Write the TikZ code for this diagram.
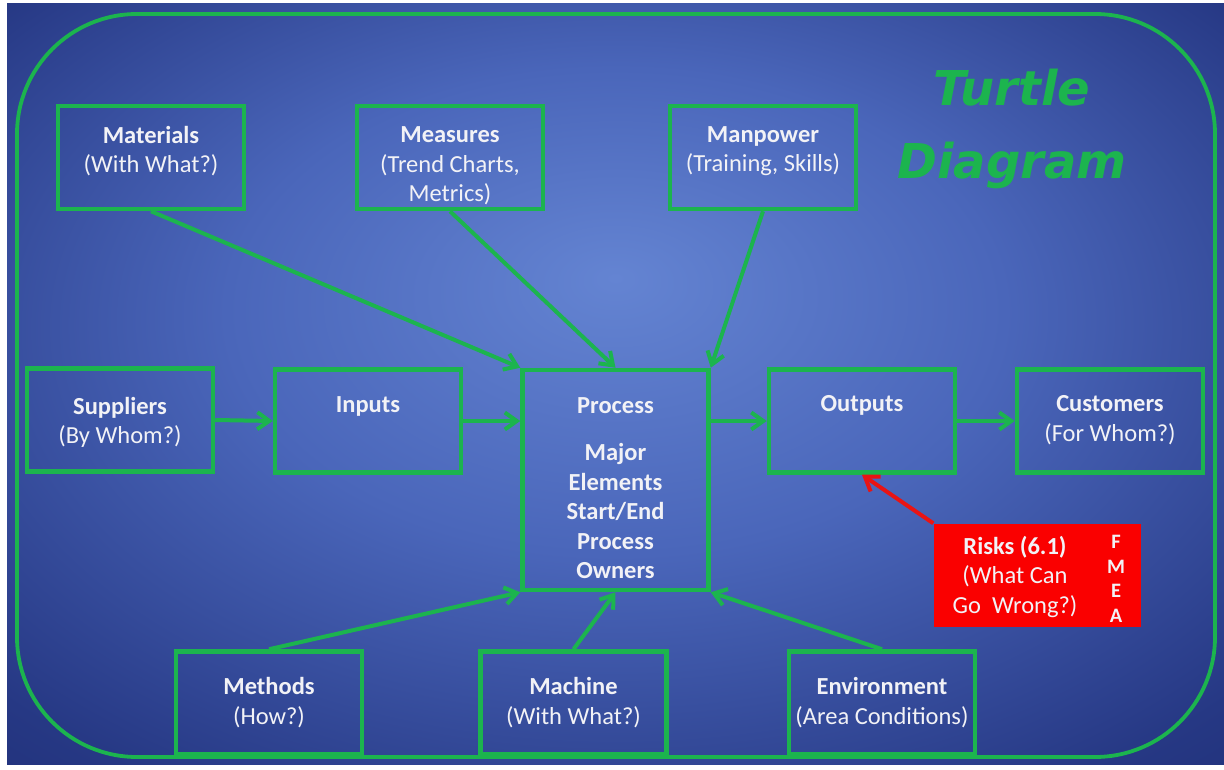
\documentclass[tikz,border=0pt]{standalone}
\usepackage{fontspec}
\setmainfont{Carlito}
\newfontfamily\titlefont{DejaVu Sans}
\usetikzlibrary{arrows.meta,calc}
\definecolor{grn}{RGB}{28,180,78}
\definecolor{bgA}{RGB}{100,132,210}
\definecolor{bgB}{RGB}{74,102,186}
\definecolor{bgC}{RGB}{38,56,132}
\definecolor{bgD}{RGB}{22,34,102}
\definecolor{riskred}{RGB}{250,0,0}
\definecolor{arrred}{RGB}{232,20,20}
\definecolor{txtc}{RGB}{242,242,246}
\pgfdeclareradialshading{bgshade}{\pgfpoint{0bp}{7bp}}{color(0bp)=(bgA); color(16bp)=(bgB); color(34bp)=(bgC); color(50bp)=(bgD)}
\tikzset{
  box/.style={draw=grn, line width=4.5pt, minimum width=186pt, minimum height=103pt, inner sep=0pt},
  txt/.style={text=txtc, align=center, font=\fontsize{24.5}{29.5}\selectfont, inner sep=0pt},
  arr/.style={draw=grn, line width=4pt, -{Straight Barb[length=12pt,width=17pt]}},
  redarr/.style={draw=arrred, line width=4pt, -{Straight Barb[length=13pt,width=18pt]}},
  ttl/.style={text=grn, font=\titlefont\bfseries\itshape\fontsize{48}{56}\selectfont, inner sep=0pt}
}
\begin{document}
\begin{tikzpicture}[x=1pt,y=-1pt]
\fill[white] (0,0) rectangle (1224,770);
\useasboundingbox (0,0) rectangle (1224,770);
\shade[shading=bgshade] (7,4) rectangle (1224,764);
% outer frame
\draw[grn, line width=3.8pt, rounded corners=120pt] (17,14) rectangle (1215,757);

% title
\node[ttl] (t1) at (1012,88) {Turtle};
\node[ttl] (t2) at (1012,165) {Diagram};

% boxes
\node[box] (mat) at (151,157.5) {};
\node[box] (meas) at (450,157.5) {};
\node[box] (man) at (763,157.5) {};
\node[box] (sup) at (120,420) {};
\node[box] (inp) at (368,421) {};
\node[box, minimum height=220pt] (proc) at (615.5,480) {};
\node[box] (out) at (862,421) {};
\node[box] (cust) at (1110,421) {};
\node[box] (meth) at (269,703) {};
\node[box] (mach) at (573.5,703) {};
\node[box] (env) at (882,703) {};
\node[fill=riskred, minimum width=207pt, minimum height=103pt, inner sep=0pt] (risk) at (1037,575) {};

% texts
\node[txt] (matT) at (151,151) {\textbf{Materials}\\(With What?)};
\node[txt] (measT) at (450,166) {\textbf{Measures}\\(Trend Charts,\\Metrics)};
\node[txt] (manT) at (763,151) {\textbf{Manpower}\\(Training, Skills)};
\node[txt] (supT) at (120,422.5) {\textbf{Suppliers}\\(By Whom?)};
\node[txt] (inpT) at (368,406) {\textbf{Inputs}};
\node[txt] (procT) at (615.5,488) {\textbf{Process}\\[18pt]\textbf{Major}\\\textbf{Elements}\\\textbf{Start/End}\\\textbf{Process}\\\textbf{Owners}};
\node[txt] (outT) at (862,405) {\textbf{Outputs}};
\node[txt] (custT) at (1110,420) {\textbf{Customers}\\(For Whom?)};
\node[txt] (methT) at (269,702.5) {\textbf{Methods}\\(How?)};
\node[txt] (machT) at (573.5,702.5) {\textbf{Machine}\\(With What?)};
\node[txt] (envT) at (882,702.5) {\textbf{Environment}\\(Area Conditions)};
\node[txt] (riskT) at (1015,577) {\textbf{Risks (6.1)}\\(What Can\\Go\ \ Wrong?)};
\node[text=txtc, align=center, inner sep=0pt, font=\bfseries\fontsize{20.5}{24.5}\selectfont] (fmea) at (1116,579) {F\\M\\E\\A};

% connectors
\draw[arr] (mat.south) -- (proc.north west);
\draw[arr] (meas.south) -- (proc.north);
\draw[arr] (man.south) -- (proc.north east);
\draw[arr] (sup.east) -- (inp.west);
\draw[arr] (inp.east) -- (inp.east -| proc.west);
\draw[arr] (proc.east |- out.west) -- (out.west);
\draw[arr] (out.east) -- (cust.west);
\draw[arr] (meth.north) -- (proc.south west);
\draw[arr] (mach.north) -- (proc.south);
\draw[arr] (env.north) -- (proc.south east);
\draw[redarr] (risk.north west) -- (out.south);
\end{tikzpicture}
\end{document}
